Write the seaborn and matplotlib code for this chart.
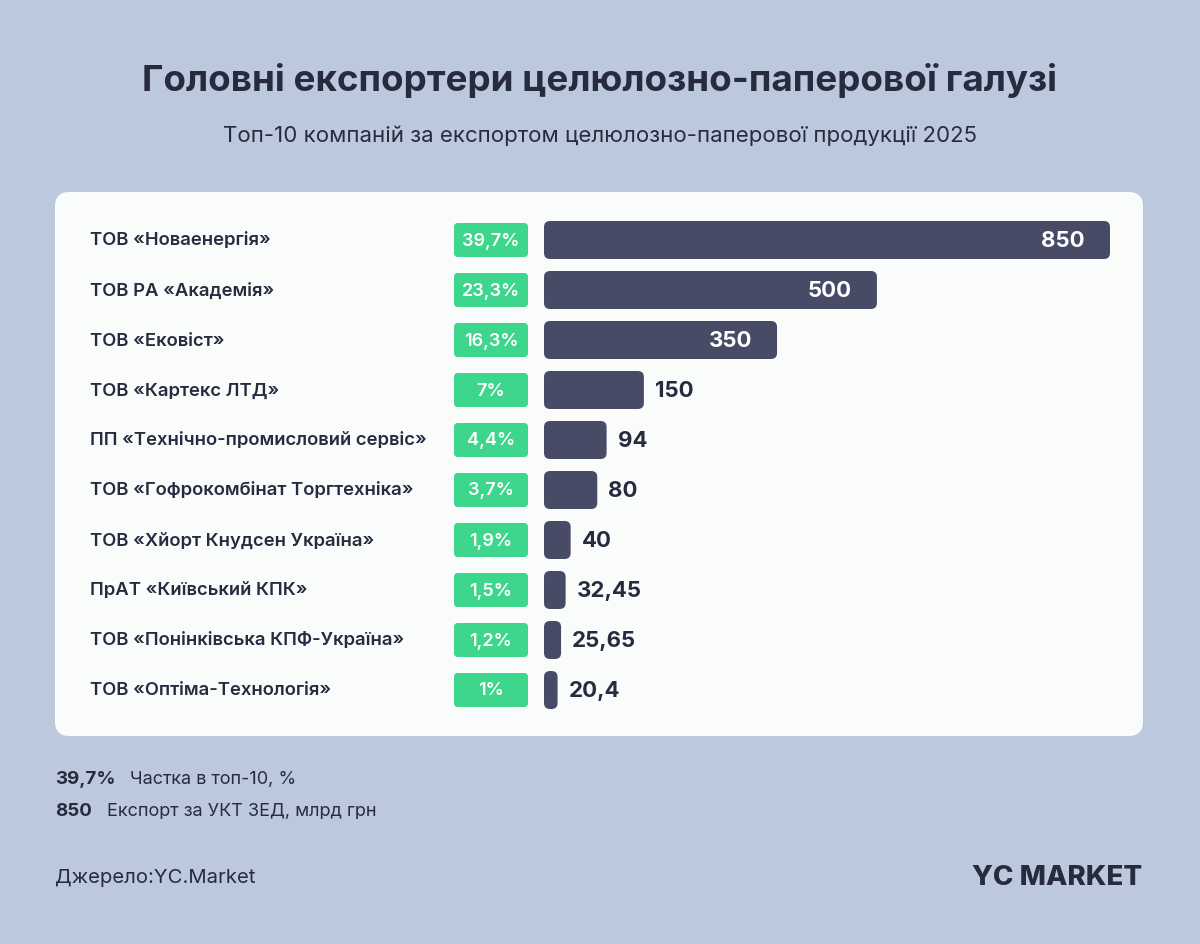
import matplotlib
matplotlib.use("Agg")
import matplotlib.pyplot as plt
from matplotlib.patches import FancyBboxPatch
from matplotlib.transforms import IdentityTransform
import seaborn as sns
import pandas as pd

companies = [
    "ТОВ «Новаенергія»",
    "ТОВ РА «Академія»",
    "ТОВ «Ековіст»",
    "ТОВ «Картекс ЛТД»",
    "ПП «Технічно-промисловий сервіс»",
    "ТОВ «Гофрокомбінат Торгтехніка»",
    "ТОВ «Хйорт Кнудсен Україна»",
    "ПрАТ «Київський КПК»",
    "ТОВ «Понінківська КПФ-Україна»",
    "ТОВ «Оптіма-Технологія»",
]
export_values = [850, 500, 350, 150, 94, 80, 40, 32.45, 25.65, 20.4]
value_labels = ["850", "500", "350", "150", "94", "80", "40", "32,45", "25,65", "20,4"]
share_labels = ["39,7%", "23,3%", "16,3%", "7%", "4,4%", "3,7%", "1,9%", "1,5%", "1,2%", "1%"]

title = "Головні експортери целюлозно-паперової галузі"
subtitle = "Топ-10 компаній за експортом целюлозно-паперової продукції 2025"

BG = "#BCC8DC"
PANEL = "#FAFCFB"
BAR = "#474B66"
GREEN = "#3DD68C"
DARK = "#272B40"

W, H = 1200, 945
sns.set_theme(style="white")
plt.rcParams["font.family"] = ["Inter", "DejaVu Sans"]

fig = plt.figure(figsize=(W / 100, H / 100), dpi=100, facecolor=BG)

def px(x, y):
    return x / W, 1 - y / H

# panel
panel = FancyBboxPatch((55 / W, 1 - 737 / H), (1143 - 55) / W, (737 - 193) / H,
                       boxstyle="round,pad=0,rounding_size=0.012",
                       transform=fig.transFigure, facecolor=PANEL, edgecolor="none",
                       mutation_aspect=W / H, zorder=0)
fig.patches.append(panel)

fig.text(*px(600, 80), title, ha="center", va="center", fontsize=26.5,
         fontweight="bold", color=DARK)
fig.text(*px(600, 136), subtitle, ha="center", va="center", fontsize=16,
         color=DARK)

# bar axes: x from 544px, scale 566px per 850 units; rows from 216 to 716 px
scale = 566 / 850
ax_left, ax_right = 544, 1130
ax_top, ax_bot = 216, 716
ax = fig.add_axes([ax_left / W, 1 - ax_bot / H, (ax_right - ax_left) / W, (ax_bot - ax_top) / H])
ax.set_facecolor("none")
df = pd.DataFrame({"company": companies, "value": export_values})
sns.barplot(data=df, x="value", y="company", ax=ax, color=BAR, width=0.76,
            saturation=1, orient="h")
ax.set_xlim(0, (ax_right - ax_left) / scale)
ax.set_ylim(9.5, -0.5)
ax.axis("off")

fig.canvas.draw()
rad = 6
for i, p in enumerate(list(ax.patches)):
    x0, y0 = p.get_x(), p.get_y()
    w, h = p.get_width(), p.get_height()
    (dx0, dy0) = ax.transData.transform((x0, y0 + h))
    (dx1, dy1) = ax.transData.transform((x0 + w, y0))
    p.set_visible(False)
    bw = dx1 - dx0
    r = min(rad, bw / 2 - 0.5)
    rb = FancyBboxPatch((dx0, dy0), bw, dy1 - dy0,
                        boxstyle=f"round,pad=0,rounding_size={max(r, 0.5)}",
                        transform=IdentityTransform(), facecolor=BAR, edgecolor="none",
                        zorder=3)
    fig.patches.append(rb)

for i, (v, lab) in enumerate(zip(export_values, value_labels)):
    end_px = ax_left + v * scale
    _, yc = ax.transData.transform((0, i))
    yc_fig = yc / H
    if v >= 300:
        fig.text((end_px - 25) / W, yc_fig, lab, ha="right", va="center",
                 fontsize=16, fontweight="bold", color="white", zorder=5)
    else:
        fig.text((end_px + 11) / W, yc_fig, lab, ha="left", va="center",
                 fontsize=16, fontweight="bold", color=DARK, zorder=5)
    # company name
    fig.text(90 / W, yc_fig, companies[i], ha="left", va="center", fontsize=13.3,
             fontweight="semibold", color=DARK)
    # share pill
    pill_h = 34
    pill = FancyBboxPatch((454, yc - pill_h / 2), 74, pill_h,
                          boxstyle="round,pad=0,rounding_size=4",
                          transform=IdentityTransform(), facecolor=GREEN,
                          edgecolor="none", zorder=3)
    fig.patches.append(pill)
    fig.text(491 / W, yc_fig, share_labels[i], ha="center", va="center",
             fontsize=13, fontweight="semibold", color="white", zorder=5)

# legend
fig.text(*px(55, 780), "39,7%", ha="left", va="center", fontsize=13.5,
         fontweight="bold", color=DARK)
fig.text(*px(130, 780), "Частка в топ-10, %", ha="left", va="center",
         fontsize=13, color=DARK)
fig.text(*px(55, 812), "850", ha="left", va="center", fontsize=13.5,
         fontweight="bold", color=DARK)
fig.text(*px(107, 812), "Експорт за УКТ ЗЕД, млрд грн", ha="left", va="center",
         fontsize=13, color=DARK)
fig.text(*px(55, 878), "Джерело:YC.Market", ha="left", va="center",
         fontsize=14.6, color=DARK)
fig.text(*px(1142, 878), "YC MARKET", ha="right", va="center", fontsize=20,
         fontweight="heavy", color=DARK)

fig.savefig("out.png", dpi=100, facecolor=BG)
